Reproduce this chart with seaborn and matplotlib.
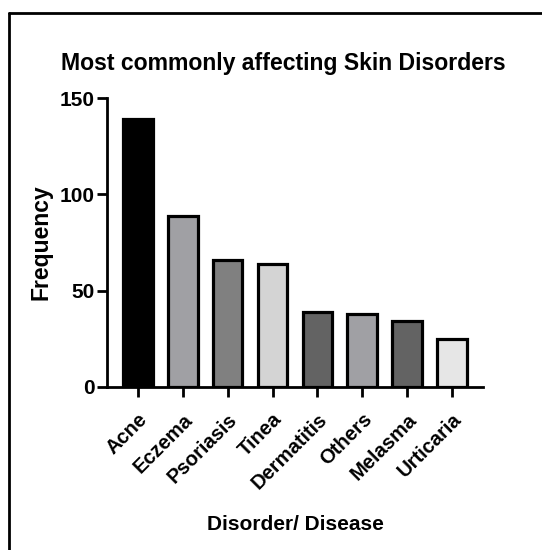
import numpy as np
import matplotlib
matplotlib.use("Agg")
import matplotlib.pyplot as plt
from matplotlib.lines import Line2D
import pandas as pd
import seaborn as sns

# data
disorders = ["Acne", "Eczema", "Psoriasis", "Tinea", "Dermatitis", "Others", "Melasma", "Urticaria"]
frequency = [139, 89, 66, 64, 39, 38, 34, 25]
bar_colors = ["#000000", "#a0a0a4", "#808080", "#d4d4d4", "#636363", "#a0a0a4", "#636363", "#e6e6e6"]
y_ticks = [0, 50, 100, 150]

sns.set_theme(style="ticks")
plt.rcParams["font.family"] = ["Liberation Sans", "DejaVu Sans"]
plt.rcParams["font.weight"] = "bold"
plt.rcParams["text.color"] = "black"
plt.rcParams["axes.labelcolor"] = "black"
plt.rcParams["xtick.color"] = "black"
plt.rcParams["ytick.color"] = "black"

df = pd.DataFrame({"disorder": disorders, "frequency": frequency})

fig = plt.figure(figsize=(5.42, 5.50), dpi=100)
ax = fig.add_axes([0.1974, 0.2964, 0.6936, 0.5254])

sns.barplot(data=df, x="disorder", y="frequency", hue="disorder", palette=bar_colors,
            legend=False, width=0.66, edgecolor="black", linewidth=2.3, saturation=1, ax=ax)

ax.set_xlim(-0.69, 7.69)
ax.set_ylim(0, 150)
ax.set_yticks(y_ticks)
ax.set_yticklabels([str(t) for t in y_ticks], fontsize=15, fontweight="bold")
ax.set_xticks(range(len(disorders)))
ax.set_xticklabels(disorders, rotation=45, ha="right", rotation_mode="anchor",
                   fontsize=14.5, fontweight="bold")

for side in ["top", "right"]:
    ax.spines[side].set_visible(False)
for side in ["left", "bottom"]:
    ax.spines[side].set_linewidth(2)
    ax.spines[side].set_color("black")
ax.tick_params(axis="both", width=2, length=7.5, color="black")
ax.tick_params(axis="x", pad=9)
ax.tick_params(axis="y", pad=1.5)

ax.set_ylabel("Frequency", fontsize=16.5, fontweight="bold", labelpad=5)
ax.set_xlabel("Disorder/ Disease", fontsize=15, fontweight="bold", labelpad=16)
fig.text(0.522, 0.885, "Most commonly affecting Skin Disorders", ha="center", va="center",
         fontsize=16.6, fontweight="bold", color="black")

# page frame around the figure
fig.add_artist(Line2D([0.016, 0.016], [0.0, 0.976], color="black", lw=2, transform=fig.transFigure))
fig.add_artist(Line2D([0.016, 1.0], [0.976, 0.976], color="black", lw=2, transform=fig.transFigure))

fig.savefig("out.png", dpi=100)
